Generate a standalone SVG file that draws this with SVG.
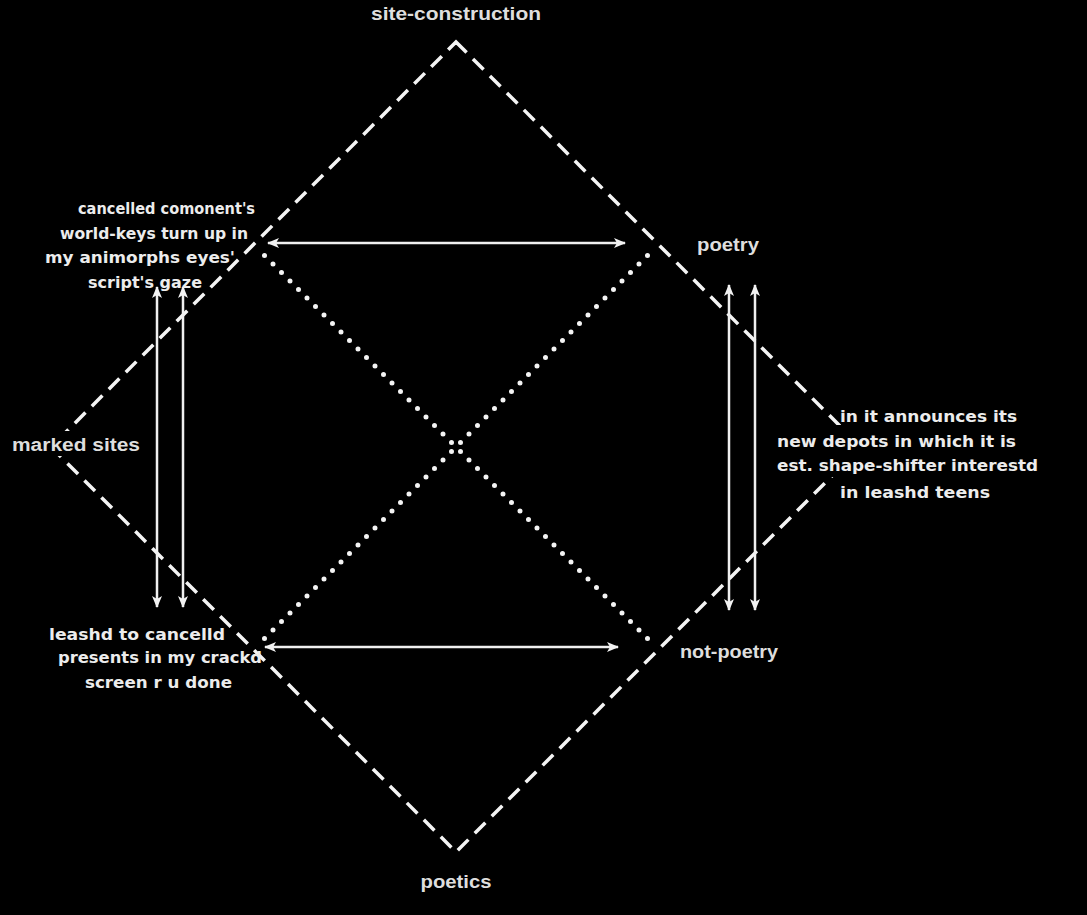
<svg xmlns="http://www.w3.org/2000/svg" width="1087" height="915" viewBox="0 0 1087 915">
<defs>
<marker id="ah" viewBox="0 0 12 10" refX="11" refY="5" markerWidth="12" markerHeight="10" markerUnits="userSpaceOnUse" orient="auto-start-reverse">
<path d="M0,0 L12,5 L0,10 L3,5 Z" fill="#f2f2f2"/>
</marker>
<style>
.dash{stroke:#f4f4f4;stroke-width:3.5;stroke-dasharray:15 9;fill:none}
.dot{stroke:#f4f4f4;stroke-width:5;stroke-linecap:round;stroke-dasharray:0 12.0208;fill:none}
.arr{stroke:#f0f0f0;stroke-width:2.5;fill:none;marker-start:url(#ah);marker-end:url(#ah)}
.lbl{font-family:"Liberation Sans",Arial,sans-serif;font-weight:bold;font-size:18px;fill:#dedede}
.pix{font-family:"DejaVu Sans",Verdana,sans-serif;font-weight:bold;font-size:16.5px;fill:#ececec}
</style>
</defs>
<rect x="0" y="0" width="1087" height="915" fill="#000"/>
<g id="connectors">
<polygon class="dash" points="456,42 861,447 456,852 51,447"/>
<line class="dot" x1="451.5" y1="442.5" x2="264.5" y2="255.5"/>
<line class="dot" x1="460.5" y1="442.5" x2="647.5" y2="255.5"/>
<line class="dot" x1="451.5" y1="451.5" x2="264.5" y2="638.5"/>
<line class="dot" x1="460.5" y1="451.5" x2="647.5" y2="638.5"/>
<line class="arr" x1="268" y1="243" x2="625" y2="243"/>
<line class="arr" x1="265" y1="647" x2="618" y2="647"/>
<line class="arr" x1="157" y1="287" x2="157" y2="607"/>
<line class="arr" x1="183" y1="287" x2="183" y2="607"/>
<line class="arr" x1="729" y1="285" x2="729" y2="610"/>
<line class="arr" x1="755" y1="285" x2="755" y2="610"/>
</g>
<g id="site-construction"><text class="lbl" x="456" y="20" text-anchor="middle" textLength="170" lengthAdjust="spacingAndGlyphs">site-construction</text></g>
<g id="poetry"><text class="lbl" x="697" y="251" textLength="62" lengthAdjust="spacingAndGlyphs">poetry</text></g>
<g id="marked-sites"><rect x="8" y="431" width="136" height="25" fill="#000"/><text class="lbl" x="12" y="451" textLength="128" lengthAdjust="spacingAndGlyphs">marked sites</text></g>
<g id="not-poetry"><text class="lbl" x="680" y="658" textLength="98" lengthAdjust="spacingAndGlyphs">not-poetry</text></g>
<g id="poetics"><text class="lbl" x="456" y="888" text-anchor="middle" textLength="71" lengthAdjust="spacingAndGlyphs">poetics</text></g>
<g id="left-note">
<text class="pix" x="78" y="214" textLength="177" lengthAdjust="spacingAndGlyphs">cancelled comonent's</text>
<text class="pix" x="60" y="239" textLength="188" lengthAdjust="spacingAndGlyphs">world-keys turn up in</text>
<text class="pix" x="45" y="263" textLength="190" lengthAdjust="spacingAndGlyphs">my animorphs eyes'</text>
<text class="pix" x="88" y="288" textLength="114" lengthAdjust="spacingAndGlyphs">script's gaze</text>
</g>
<g id="right-note">
<rect x="772" y="425" width="270" height="52" fill="#000"/>
<text class="pix" x="840" y="422" textLength="177" lengthAdjust="spacingAndGlyphs">in it announces its</text>
<text class="pix" x="777" y="447" textLength="239" lengthAdjust="spacingAndGlyphs">new depots in which it is</text>
<text class="pix" x="777" y="471" textLength="261" lengthAdjust="spacingAndGlyphs">est. shape-shifter interestd</text>
<text class="pix" x="840" y="498" textLength="150" lengthAdjust="spacingAndGlyphs">in leashd teens</text>
</g>
<g id="bottom-left-note">
<text class="pix" x="49" y="640" textLength="176" lengthAdjust="spacingAndGlyphs">leashd to cancelld</text>
<text class="pix" x="58" y="663" textLength="204" lengthAdjust="spacingAndGlyphs">presents in my crackd</text>
<text class="pix" x="85" y="688" textLength="147" lengthAdjust="spacingAndGlyphs">screen r u done</text>
</g>
</svg>
